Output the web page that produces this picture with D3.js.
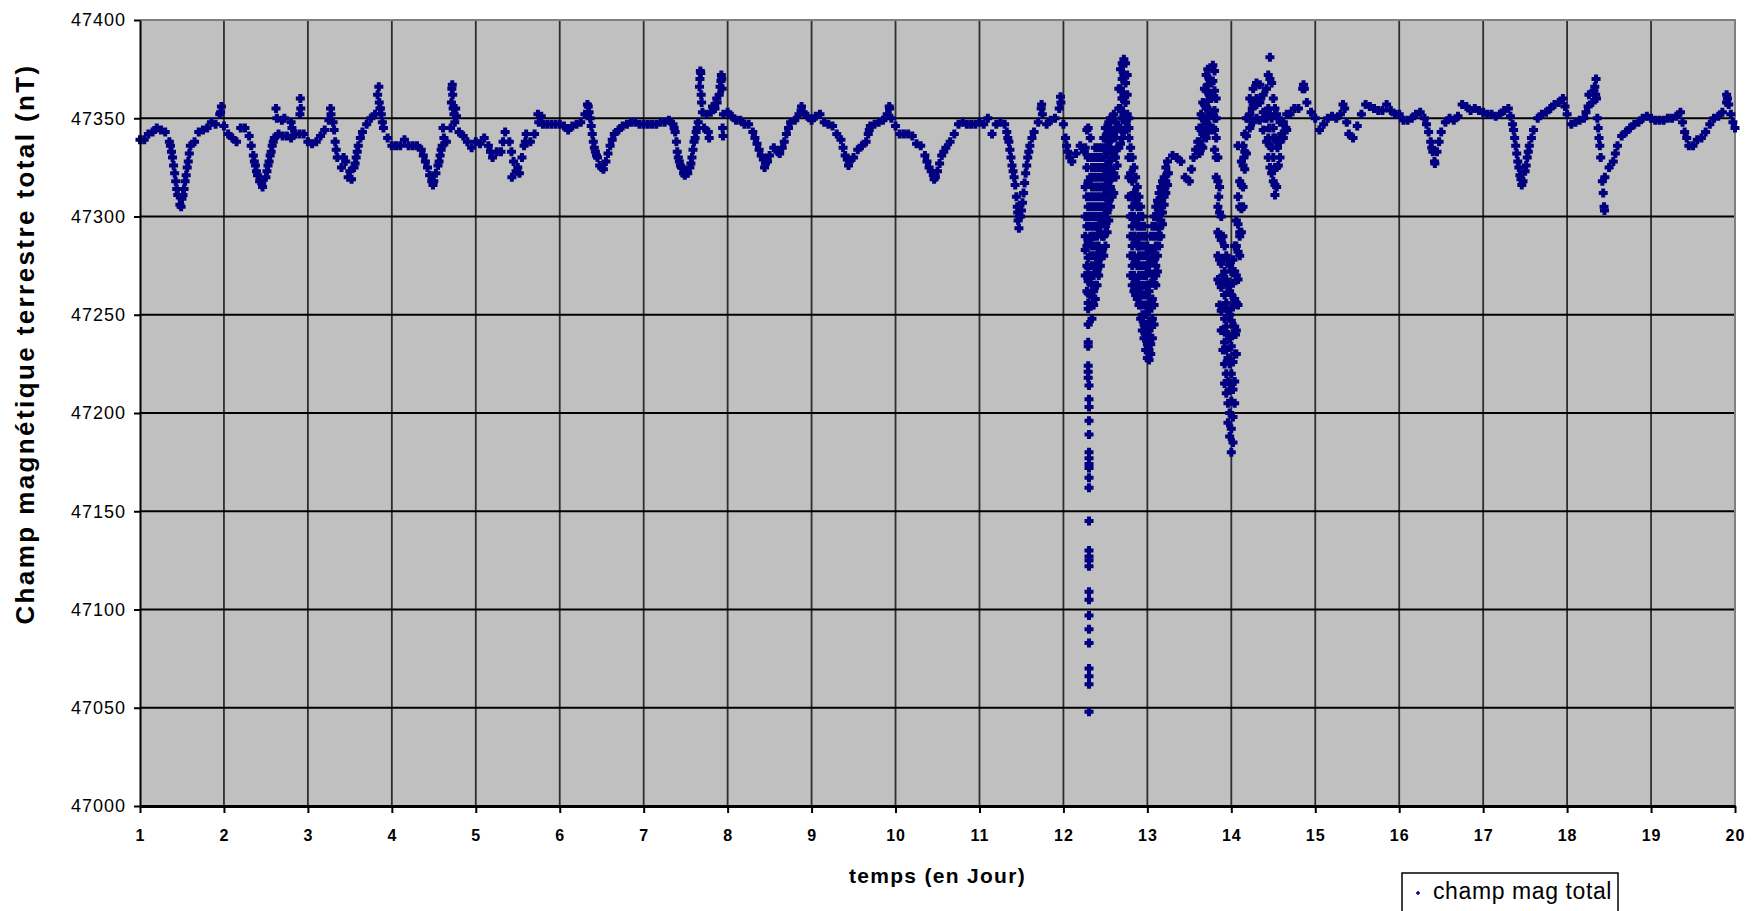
<!DOCTYPE html>
<html>
<head>
<meta charset="utf-8">
<script src="https://cdn.jsdelivr.net/npm/d3@7"></script>
<style>
  body { margin: 0; background: #fff; }
  text { font-family: "Liberation Sans", Arial, sans-serif; }
</style>
</head>
<body>
<div id="graphe"></div>
<script>
// graduations des axes
const jours = [1, 2, 3, 4, 5, 6, 7, 8, 9, 10, 11, 12, 13, 14, 15, 16, 17, 18, 19, 20];
const graduationsChamp = [47000, 47050, 47100, 47150, 47200, 47250, 47300, 47350, 47400];

// champ total (nT), un releve toutes les 0.05 jour a partir du jour 1
const debut = 1;
const pas = 0.05;
const champ = [
  47339,47339,47342,47343,47345,47344,47343,47338,47326,47311,47309,47321,47336,47338,47343,47344,47345,47348,47347,47352,
  47346,47342,47340,47338,47345,47345,47341,47331,47321,47317,47320,47331,47340,47342,47341,47341,47340,47342,47342,47342,
  47338,47337,47338,47341,47344,47349,47348,47330,47325,47328,47323,47325,47336,47343,47347,47350,47352,47358,47345,47340,
  47336,47336,47336,47339,47336,47336,47336,47334,47328,47321,47318,47326,47336,47338,47345,47348,47343,47341,47338,47335,
  47338,47337,47340,47336,47330,47333,47333,47343,47338,47328,47325,47330,47342,47338,47342,47348,47347,47347,47347,47347,
  47347,47346,47344,47346,47347,47348,47352,47353,47338,47330,47325,47328,47336,47342,47344,47346,47347,47348,47348,47347,
  47347,47347,47347,47347,47348,47348,47349,47347,47333,47325,47323,47325,47338,47348,47353,47352,47353,47355,47362,47352,
  47353,47351,47349,47349,47347,47347,47343,47337,47331,47327,47331,47335,47333,47335,47342,47348,47349,47352,47353,47351,
  47349,47351,47352,47348,47347,47346,47342,47339,47331,47328,47330,47334,47336,47338,47346,47347,47348,47349,47352,47350,
  47346,47342,47342,47342,47341,47337,47336,47331,47325,47321,47323,47331,47335,47338,47342,47347,47348,47347,47347,47347,
  47348,47347,47350,47342,47347,47348,47347,47338,47323,47305,47303,47322,47336,47343,47348,47352,47347,47349,47350,47355,
  47347,47333,47328,47332,47336,47333,47300,47290,47295,47300,47315,47320,47330,47345,47360,47350,47300,47290,47285,47270,
  47240,47245,47270,47290,47310,47322,47331,47330,47328,47320,47318,47330,47338,47345,47355,47360,47350,47310,47270,47240,
  47215,47240,47290,47330,47350,47355,47357,47360,47350,47345,47340,47335,47342,47345,47352,47355,47355,47365,47358,47353,
  47350,47344,47347,47350,47351,47350,47352,47355,47342,47340,47346,47352,47357,47356,47355,47354,47354,47357,47354,47352,
  47352,47349,47349,47350,47352,47353,47350,47343,47333,47333,47343,47348,47350,47349,47351,47357,47356,47354,47355,47354,
  47353,47352,47352,47351,47352,47354,47355,47347,47332,47319,47323,47336,47344,47350,47352,47353,47355,47357,47358,47360,
  47352,47347,47348,47349,47350,47356,47358,47360,47330,47320,47325,47328,47336,47341,47343,47345,47347,47348,47350,47351,
  47350,47349,47349,47349,47350,47350,47351,47353,47343,47336,47336,47339,47340,47343,47347,47350,47351,47353,47358,47352,
  47345
];

// releves isoles : descentes rapides et pics [jour, nT]
const complements = [
  [1.3625,47336],[1.375,47333],[1.3875,47330],[1.4125,47322],[1.425,47318],[1.4375,47314],[1.475,47306],[1.49,47305],
  [1.5125,47311],[1.525,47314],[1.5375,47318],[1.5625,47325],[1.575,47328],[1.5875,47332],
  [1.96,47353],[1.97,47356],
  [2.325,47336],[2.3625,47328],[2.375,47326],[2.3875,47323],[2.425,47318],[2.46,47315],
  [2.5125,47323],[2.525,47326],[2.5375,47328],[2.5625,47333],[2.575,47336],[2.5875,47338],
  [2.62,47355],[2.63,47350],[2.69,47349],[2.72,47350],[2.80,47348],[2.81,47345],[2.905,47352],[2.91,47360],[2.915,47355],
  [3.27,47355],[3.275,47352],[3.3125,47344],[3.325,47338],[3.3375,47334],[3.425,47330],[3.48,47320],[3.52,47319],
  [3.5625,47327],[3.575,47330],[3.5875,47333],[3.625,47340],
  [3.83,47362],[3.845,47366],[3.86,47355],[3.8625,47355],[3.875,47352],[3.8875,47348],
  [4.375,47331],[4.425,47325],[4.475,47318],[4.49,47316],[4.525,47322],[4.5625,47328],[4.575,47331],[4.5875,47334],
  [4.61,47345],[4.62,47340],
  [4.71,47358],[4.715,47365],[4.72,47367],[4.725,47362],[4.73,47355],[4.74,47352],[4.76,47355],[4.77,47351],
  [5.175,47333],[5.325,47338],[5.425,47333],[5.43,47320],[5.48,47323],[5.52,47322],[5.575,47336],[5.59,47338],
  [5.74,47352],[5.78,47351],
  [6.33,47357],[6.34,47356],[6.3625,47350],[6.375,47346],[6.3875,47342],[6.4125,47335],[6.425,47333],[6.4375,47331],
  [6.475,47326],[6.52,47324],[6.575,47332],[6.625,47339],
  [7.3625,47345],[7.375,47343],[7.39,47338],[7.4125,47330],[7.425,47328],[7.4375,47326],[7.475,47322],[7.49,47321],
  [7.525,47322],[7.5625,47327],[7.575,47330],[7.5875,47334],[7.6125,47340],[7.625,47343],[7.6375,47345],
  [7.665,47366],[7.67,47370],[7.675,47374],[7.68,47373],[7.685,47362],[7.69,47358],[7.72,47345],[7.77,47343],[7.78,47340],
  [7.82,47356],[7.87,47360],[7.875,47358],[7.91,47366],[7.92,47369],[7.925,47372],[7.93,47370],[7.935,47365],[7.94,47345],[7.945,47341],
  [8.325,47340],[8.375,47334],[8.425,47329],[8.44,47325],[8.475,47328],[8.62,47332],[8.675,47338],[8.725,47345],
  [8.875,47354],[8.88,47356],
  [9.375,47335],[9.425,47329],[9.44,47326],[9.675,47342],[9.6875,47344],[9.925,47356],[9.93,47355],
  [10.375,47328],[10.425,47323],[10.46,47319],[10.475,47320],[10.525,47327],[10.575,47333],
  [11.325,47343],[11.3375,47340],[11.3625,47334],[11.375,47330],[11.3875,47326],[11.4125,47320],[11.425,47316],[11.44,47310],
  [11.455,47302],[11.46,47298],[11.47,47294],[11.475,47300],[11.49,47300],
  [11.5125,47307],[11.525,47312],[11.5375,47317],[11.5625,47326],[11.575,47330],[11.5875,47333],[11.625,47340],
  [11.735,47355],[11.74,47357],[11.965,47361],[11.97,47358],
  [12.025,47340],[12.0375,47336],[12.075,47330],
  [13.525,47324],[13.575,47334],
  [14.86,47367],[14.87,47365],[15.33,47357],[15.375,47348],
  [16.325,47347],[16.375,47338],[16.3875,47335],[16.42,47328],[16.425,47327],[16.475,47338],
  [17.325,47351],[17.3625,47344],[17.375,47340],[17.3875,47336],[17.4125,47328],[17.425,47325],[17.4375,47321],
  [17.46,47316],[17.475,47318],[17.5125,47326],[17.525,47330],[17.5375,47333],[17.575,47340],
  [17.975,47356],[18.225,47353],
  [18.26,47362],[18.32,47364],[18.33,47366],[18.34,47362],[18.345,47370],
  [18.36,47350],[18.37,47345],[18.38,47340],[18.39,47336],[18.42,47318],[18.43,47312],[18.44,47305],[18.445,47303],
  [18.575,47332],
  [19.375,47348],[19.425,47340],[19.9,47362],[19.91,47360],[19.925,47357],[19.975,47348]
];

// orage magnetique des jours 12 a 14 : [jour, releves nT]
const orage = [
  [12.26, [47335,47315,47300,47290,47283,47270]],
  [12.28, [47344,47325,47310,47295,47285,47275,47262]],
  [12.295, [47345,47330,47318,47305,47295,47287,47279,47274,47270,47267,47261,47256,47253,47245,47236,47234,47224,47221,47218]],
  [12.305, [47214,47207,47203,47196,47189,47180,47177,47174,47172,47167,47162,47145,47130,47127,47125,47122,47109,47105,47097,47090,47083,47070,47066,47062,47048]],
  [12.32, [47340,47330,47320,47310,47300,47290,47280,47270,47260]],
  [12.34, [47325,47315,47305,47295,47285,47275,47265,47255,47248]],
  [12.36, [47330,47320,47310,47300,47290,47280,47270,47262,47255]],
  [12.38, [47335,47325,47315,47305,47295,47285,47275,47265,47258]],
  [12.40, [47330,47320,47310,47300,47290,47280,47272,47265]],
  [12.42, [47335,47325,47315,47305,47295,47285,47278,47270]],
  [12.44, [47330,47320,47310,47300,47292,47283,47275]],
  [12.46, [47335,47325,47315,47305,47298,47290,47282]],
  [12.48, [47340,47330,47320,47310,47300,47290,47280]],
  [12.50, [47345,47335,47325,47315,47305,47295,47285]],
  [12.52, [47342,47332,47322,47312,47302,47292]],
  [12.54, [47348,47338,47328,47318,47308,47298]],
  [12.56, [47350,47345,47335,47325,47315,47305]],
  [12.58, [47350,47340,47330,47320,47310]],
  [12.60, [47352,47342,47332,47322,47312]],
  [12.62, [47348,47340,47330,47320]],
  [12.64, [47345,47335,47326]],
  [12.66, [47365,47355,47345,47335]],
  [12.68, [47375,47365,47355,47345,47337]],
  [12.70, [47378,47370,47360,47350,47340]],
  [12.72, [47380,47372,47362,47352,47343]],
  [12.74, [47378,47368,47358,47348]],
  [12.76, [47372,47362,47352,47345]],
  [12.78, [47350,47345,47340,47330,47320,47310]],
  [12.80, [47335,47322,47310,47300,47290,47280,47270]],
  [12.82, [47330,47318,47305,47295,47285,47275,47265]],
  [12.84, [47325,47312,47300,47290,47280,47270,47262]],
  [12.86, [47320,47308,47298,47288,47278,47268,47260]],
  [12.88, [47315,47305,47295,47285,47275,47265,47258]],
  [12.90, [47310,47300,47290,47280,47270,47262,47255]],
  [12.92, [47305,47295,47285,47275,47265,47255,47248]],
  [12.94, [47300,47290,47280,47270,47260,47250,47242]],
  [12.96, [47295,47285,47275,47265,47255,47245,47238]],
  [12.98, [47290,47280,47270,47260,47250,47240,47232]],
  [13.00, [47285,47275,47265,47255,47245,47235,47228]],
  [13.02, [47283,47272,47262,47252,47242,47232,47227]],
  [13.04, [47290,47278,47266,47255,47245,47235,47230]],
  [13.06, [47295,47282,47270,47258,47248,47238]],
  [13.08, [47300,47290,47278,47266,47255,47245]],
  [13.10, [47305,47295,47285,47275,47265]],
  [13.12, [47308,47300,47290,47280,47272]],
  [13.14, [47312,47302,47294,47285]],
  [13.16, [47315,47306,47298,47290]],
  [13.18, [47318,47310,47302,47296]],
  [13.20, [47320,47313,47306]],
  [13.22, [47325,47318,47312]],
  [13.24, [47328,47322,47316]],
  [13.62, [47345,47338,47332]],
  [13.64, [47352,47344,47336]],
  [13.66, [47358,47350,47342,47335]],
  [13.68, [47365,47357,47349,47341]],
  [13.70, [47372,47364,47356,47348,47340]],
  [13.72, [47375,47367,47359,47351,47343]],
  [13.74, [47370,47362,47354,47346]],
  [13.76, [47368,47360,47352,47344]],
  [13.78, [47377,47369,47361,47353,47345]],
  [13.80, [47374,47364,47354,47344,47334]],
  [13.82, [47360,47350,47340,47330,47320]],
  [13.84, [47330,47318,47305,47292,47280,47268]],
  [13.86, [47315,47302,47290,47278,47266,47255]],
  [13.88, [47300,47288,47276,47264,47252,47242]],
  [13.90, [47290,47278,47266,47254,47242,47232]],
  [13.92, [47285,47272,47260,47248,47236,47225,47215]],
  [13.94, [47280,47268,47256,47244,47232,47220,47210]],
  [13.96, [47278,47265,47252,47240,47228,47216,47205,47195]],
  [13.98, [47275,47262,47250,47238,47225,47212,47200,47188]],
  [14.00, [47272,47260,47247,47234,47220,47206,47192,47180]],
  [14.02, [47278,47266,47254,47240,47226,47212,47198,47185]],
  [14.04, [47285,47272,47258,47244,47230,47216,47205]],
  [14.06, [47298,47285,47270,47256,47242,47230]],
  [14.08, [47336,47310,47296,47282,47268,47255]],
  [14.10, [47318,47305,47292,47280]],
  [14.12, [47328,47316,47304,47292]],
  [14.14, [47336,47326,47315,47305]],
  [14.16, [47342,47333,47324]],
  [14.18, [47350,47341,47332]],
  [14.22, [47360,47352,47345]],
  [14.26, [47365,47357,47348]],
  [14.30, [47368,47360,47350]],
  [14.34, [47367,47358,47349]],
  [14.38, [47362,47353,47344]],
  [14.42, [47365,47350,47338]],
  [14.44, [47372,47355,47340,47330]],
  [14.46, [47381,47370,47352,47336,47325]],
  [14.48, [47368,47350,47335,47322]],
  [14.50, [47360,47345,47330,47318]],
  [14.52, [47355,47340,47325,47316,47311]],
  [14.54, [47352,47338,47325,47315]],
  [14.56, [47350,47338,47326]],
  [14.58, [47348,47338,47330]],
  [14.62, [47348,47340]],
  [14.66, [47352,47344]]
];

let margin = {top: 20, right: 26, bottom: 105, left: 140};
let width = 1761 - margin.left - margin.right;
let height = 911 - margin.top - margin.bottom;

let x = d3.scaleLinear()
    .domain([1, 20])
    .range([0, width]);

let y = d3.scaleLinear()
    .domain([47000, 47400])
    .range([height, 0]);

let svg = d3.select('#graphe')
    .append('svg')
    .attr('width', 1761)
    .attr('height', 911)
    .style('display', 'block');

let g = svg.append('g')
    .attr('transform', 'translate(' + margin.left + ',' + margin.top + ')');

// fond gris de la zone de trace
g.append('rect')
    .attr('width', width)
    .attr('height', height)
    .attr('fill', '#c0c0c0');

// quadrillage
g.selectAll('.grilleV')
    .data(jours.filter((j) => j > 1 && j < 20))
    .enter().append('line')
        .attr('x1', (d) => x(d)).attr('x2', (d) => x(d))
        .attr('y1', 0).attr('y2', height)
        .attr('stroke', '#2e2e2e')
        .attr('stroke-width', 1.8);

g.selectAll('.grilleH')
    .data(graduationsChamp.filter((v) => v > 47000 && v < 47400))
    .enter().append('line')
        .attr('x1', 0).attr('x2', width)
        .attr('y1', (d) => y(d)).attr('y2', (d) => y(d))
        .attr('stroke', '#000')
        .attr('stroke-width', 2);

// bord haut et droit
g.append('path')
    .attr('d', 'M0,0H' + width + 'V' + height)
    .attr('fill', 'none')
    .attr('stroke', '#808080')
    .attr('stroke-width', 2);

// tous les releves
let points = champ.map((v, i) => [debut + i * pas, v])
    .concat(complements)
    .concat(orage.flatMap(([t, vals]) => vals.map((v) => [t, v])));

let croix = 'M-4.5,0H4.5M0,-4.5V4.5';

g.append('g')
    .selectAll('path')
    .data(points)
    .enter().append('path')
        .attr('d', croix)
        .attr('transform', (d) => 'translate(' + x(d[0]) + ',' + y(d[1]) + ')')
        .attr('stroke', '#000080')
        .attr('stroke-width', 4)
        .attr('fill', 'none');

// axe des y
let yAxis = d3.axisLeft(y)
    .tickValues(graduationsChamp)
    .tickSize(6)
    .tickSizeOuter(0)
    .tickPadding(8)
    .tickFormat(d3.format('d'));

let axeY = g.append('g').call(yAxis);
axeY.select('.domain').attr('stroke', '#000').attr('stroke-width', 2);
axeY.selectAll('.tick line').attr('stroke', '#000').attr('stroke-width', 2);
axeY.selectAll('text')
    .attr('fill', '#000')
    .style('font-size', '18px')
    .style('letter-spacing', '1px');

// axe des x
let xAxis = d3.axisBottom(x)
    .tickValues(jours)
    .tickSize(7)
    .tickSizeOuter(0)
    .tickPadding(17)
    .tickFormat(d3.format('d'));

let axeX = g.append('g')
    .attr('transform', 'translate(0,' + height + ')')
    .call(xAxis);
axeX.select('.domain').attr('stroke', '#000').attr('stroke-width', 3);
axeX.selectAll('.tick line').attr('stroke', '#000').attr('stroke-width', 2);
axeX.selectAll('text')
    .attr('fill', '#000')
    .style('font-size', '16px')
    .style('font-weight', 'bold')
    .style('letter-spacing', '1px');

// titres des axes
svg.append('text')
    .attr('x', margin.left + width / 2)
    .attr('y', 883)
    .attr('text-anchor', 'middle')
    .style('font-size', '21px')
    .style('font-weight', 'bold')
    .style('letter-spacing', '1.3px')
    .text('temps (en Jour)');

svg.append('text')
    .attr('transform', 'translate(25,344) rotate(-90)')
    .attr('text-anchor', 'middle')
    .attr('dominant-baseline', 'central')
    .style('font-size', '26px')
    .style('font-weight', 'bold')
    .style('letter-spacing', '2.4px')
    .text('Champ magnétique terrestre total (nT)');

// legende
let legende = svg.append('g').attr('transform', 'translate(1402,873)');

legende.append('rect')
    .attr('width', 216)
    .attr('height', 60)
    .attr('fill', '#fff')
    .attr('stroke', '#000')
    .attr('stroke-width', 1.5);

legende.append('path')
    .attr('d', 'M-2,0H2M0,-2V2')
    .attr('transform', 'translate(16,20)')
    .attr('stroke', '#000080')
    .attr('stroke-width', 1.5);

legende.append('text')
    .attr('x', 31)
    .attr('y', 26)
    .style('font-size', '23px')
    .style('letter-spacing', '0.6px')
    .text('champ mag total');
</script>
</body>
</html>
